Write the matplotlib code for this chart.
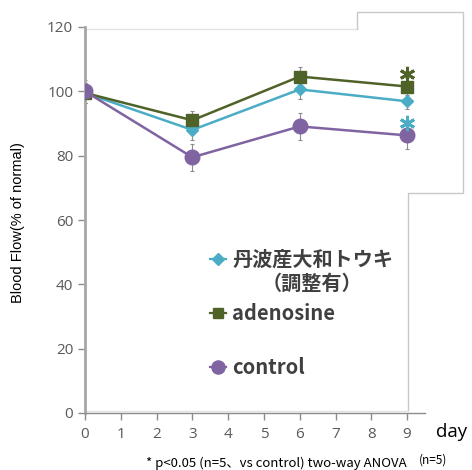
import numpy as np
import matplotlib
matplotlib.use("Agg")
import matplotlib.pyplot as plt
from matplotlib.lines import Line2D

# data
days = [0, 3, 6, 9]
touki = [99.5, 88.0, 100.6, 96.9]
touki_err = [3.0, 3.0, 3.0, 2.5]
adeno = [99.5, 91.0, 104.6, 101.5]
adeno_err = [3.0, 3.0, 3.0, 2.5]
ctrl = [100.0, 79.5, 89.1, 86.3]
ctrl_err = [3.5, 4.2, 4.2, 4.3]

labels = ["丹波産大和トウキ", "adenosine", "control"]
cols = ["#4bacc6", "#4f6228", "#8064a2"]
xticks = list(range(0, 10))
yticks = list(range(0, 121, 20))

W, H = 472, 470
fig = plt.figure(figsize=(W / 100, H / 100), dpi=100)
fig.patch.set_facecolor("white")

def fx(px):
    return px / W

def fy(py):
    return 1 - py / H

ax = fig.add_axes([fx(85), fy(413), (425 - 85) / W, (413 - 27) / H])
ax.patch.set_visible(False)
ax.set_xlim(0, 9.5)
ax.set_ylim(0, 120)

# light outlines of the plot area / text box
fig.add_artist(Line2D([fx(86), fx(357)], [fy(29), fy(29)], color="#e3e3e3", lw=1, transform=fig.transFigure, zorder=0))
fig.add_artist(Line2D([fx(357), fx(357), fx(463), fx(463), fx(408), fx(408)],
                      [fy(29), fy(12), fy(12), fy(193), fy(193), fy(410)],
                      color="#c8c8c8", lw=1, transform=fig.transFigure, zorder=0))
fig.add_artist(Line2D([fx(86), fx(408)], [fy(411), fy(411)], color="#e3e3e3", lw=1, transform=fig.transFigure, zorder=0))

series = [(touki, touki_err, "D", 6.5), (adeno, adeno_err, "s", 8), (ctrl, ctrl_err, "o", 10.5)]
handles = []
for (vals, err, mk, ms), c, lab in zip(series, cols, labels):
    ax.errorbar(days, vals, yerr=err, fmt="none", ecolor="#8c8c8c", elinewidth=0.8, capsize=1.5, capthick=0.8, zorder=2)
    ax.plot(days, vals, color=c, lw=1.8, marker=mk, ms=ms, zorder=3)
    handles.append(Line2D([], [], color=c, lw=1.6, marker=mk, ms=ms * 0.9))

# significance asterisks
ax.plot(days[-1], adeno[-1] + 3.8, marker=(6, 2, 0), ms=11, mew=2.1, color=cols[1], ls="none", zorder=4)
ax.plot(days[-1], ctrl[-1] + 4.0, marker=(6, 2, 0), ms=11, mew=2.1, color=cols[0], ls="none", zorder=4)

for s in ["top", "right"]:
    ax.spines[s].set_visible(False)
ax.spines["left"].set_color("#a6a6a6")
ax.spines["left"].set_linewidth(2)
ax.spines["bottom"].set_color("#8c8c8c")
ax.spines["bottom"].set_linewidth(1)
ax.spines["left"].set_bounds(0, 120)

ax.set_xticks(xticks)
ax.set_yticks(yticks)
ax.tick_params(axis="both", direction="out", length=5, width=1, color="#8c8c8c",
               labelcolor="#595959", labelsize=11)
ax.tick_params(axis="x", pad=5)
for t in ax.get_xticklabels() + ax.get_yticklabels():
    t.set_fontfamily("Open Sans")

fig.text(fx(18), fy(223), "Blood Flow(% of normal)", rotation=90, ha="center", va="center",
         fontsize=10.5, family="Liberation Sans", color="black")
fig.text(fx(436), fy(432), "day", ha="left", va="center", fontsize=13.5, family="Open Sans", color="black")
fig.text(fx(146), fy(463), "* p<0.05 (n=5、vs control) two-way ANOVA", ha="left", va="center",
         fontsize=9.5, family=["Noto Sans CJK JP", "DejaVu Sans"], color="black")
fig.text(fx(419), fy(460), "(n=5)", ha="left", va="center", fontsize=8.5,
         family=["Noto Sans CJK JP", "DejaVu Sans"], color="black")

leg = ax.legend(handles, labels, loc="upper left", bbox_to_anchor=(fx(192), fy(231)),
                bbox_transform=fig.transFigure, frameon=False, handlelength=0.8,
                handletextpad=0.3, labelspacing=1.63,
                prop={"family": ["Noto Sans CJK JP", "DejaVu Sans"], "weight": "bold", "size": 14.5})
for t in leg.get_texts():
    t.set_color("#404040")
fig.text(fx(312), fy(283), "（調整有）", ha="center", va="center", fontsize=14.5, fontweight="bold",
         family=["Noto Sans CJK JP", "DejaVu Sans"], color="#404040")

fig.savefig("out.png", dpi=100, facecolor="white")
